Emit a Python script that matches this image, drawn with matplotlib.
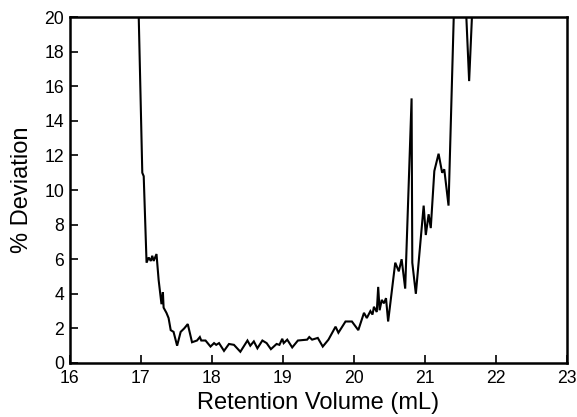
import matplotlib
matplotlib.use("Agg")
import matplotlib.pyplot as plt

# retention volume (mL) and % deviation
volume = [16.96, 16.97, 17.02, 17.04, 17.08, 17.11, 17.14, 17.16, 17.18, 17.22,
          17.25, 17.29, 17.31, 17.32, 17.36, 17.39, 17.42, 17.46, 17.51, 17.56,
          17.61, 17.66, 17.72, 17.79, 17.83, 17.85, 17.91, 17.98, 18.03, 18.06,
          18.10, 18.17, 18.24, 18.31, 18.40, 18.50, 18.54, 18.59, 18.64, 18.71,
          18.77, 18.83, 18.91, 18.95, 18.99, 19.01, 19.06, 19.13, 19.21, 19.34,
          19.37, 19.41, 19.49, 19.56, 19.64, 19.74, 19.78, 19.88, 19.97, 20.06,
          20.14, 20.18, 20.23, 20.26, 20.28, 20.32, 20.34, 20.36, 20.39, 20.42,
          20.45, 20.48, 20.58, 20.63, 20.67, 20.72, 20.77, 20.81, 20.82, 20.87,
          20.98, 21.01, 21.05, 21.08, 21.13, 21.19, 21.24, 21.27, 21.33, 21.41,
          21.50, 21.57, 21.62, 21.67, 21.75]
deviation = [30.0, 20.0, 11.0, 10.8, 5.8, 6.1, 5.9, 6.2, 5.9, 6.3,
             4.8, 3.4, 4.1, 3.2, 2.9, 2.6, 1.9, 1.8, 1.0, 1.8,
             2.0, 2.25, 1.2, 1.3, 1.5, 1.3, 1.3, 0.95, 1.15, 1.05,
             1.15, 0.7, 1.1, 1.05, 0.65, 1.3, 1.0, 1.25, 0.85, 1.3,
             1.15, 0.8, 1.1, 1.05, 1.4, 1.15, 1.35, 0.9, 1.3, 1.35,
             1.5, 1.35, 1.45, 0.95, 1.35, 2.1, 1.75, 2.4, 2.4, 1.9,
             2.9, 2.6, 3.0, 2.8, 3.25, 2.95, 4.4, 3.05, 3.65, 3.45,
             3.75, 2.4, 5.8, 5.3, 6.0, 4.3, 10.4, 15.3, 5.8, 4.0,
             9.1, 7.4, 8.6, 7.8, 11.1, 12.1, 11.0, 11.2, 9.1, 21.0,
             30.0, 21.0, 16.3, 21.0, 30.0]

xticks = [16, 17, 18, 19, 20, 21, 22, 23]
yticks = [0, 2, 4, 6, 8, 10, 12, 14, 16, 18, 20]

plt.rcParams['font.family'] = ['Liberation Sans', 'DejaVu Sans']

fig = plt.figure(figsize=(5.77, 4.17), dpi=100)
ax = fig.add_axes([0.121, 0.1295, 0.862, 0.8295])

ax.plot(volume, deviation, color='black', linewidth=1.5, solid_joinstyle='miter')

ax.set_xlim(16, 23)
ax.set_ylim(0, 20)
ax.set_xticks(xticks)
ax.set_yticks(yticks)
ax.tick_params(axis='both', direction='in', length=6, width=1.2, labelsize=12.7,
               top=False, right=False)
ax.tick_params(axis='x', pad=5)
ax.tick_params(axis='y', pad=4)
for s in ax.spines.values():
    s.set_linewidth(1.8)

ax.set_xlabel('Retention Volume (mL)', fontsize=17, labelpad=4)
ax.set_ylabel('% Deviation', fontsize=17, labelpad=8)

fig.savefig('out.png', dpi=100)
